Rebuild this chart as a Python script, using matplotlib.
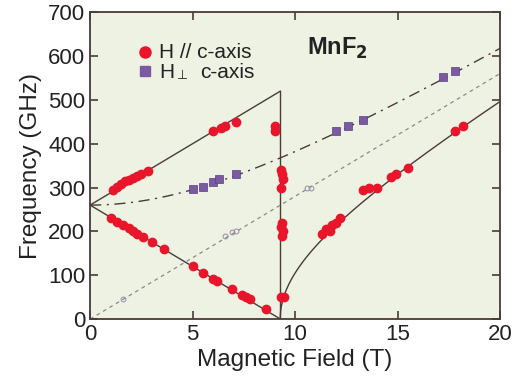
import matplotlib
matplotlib.use("Agg")
import matplotlib.pyplot as plt
import numpy as np

plt.rcParams['font.family'] = ['Liberation Sans', 'DejaVu Sans']

# resonance model parameters
f0 = 260.0       # zero-field gap (GHz)
gamma = 28.0     # GHz/T
h_sf = 9.27      # spin-flop field (T)

# H // c-axis data (field T, freq GHz)
par_H = [1.1, 1.3, 1.5, 1.7, 1.9, 2.1, 2.3, 2.5, 2.8, 6.0, 6.4, 6.6, 7.1, 9.0, 9.0,
         1.0, 1.3, 1.6, 1.9, 2.1, 2.3, 2.6, 3.0, 3.6, 5.0, 5.5, 6.0, 6.2, 6.9, 7.4, 7.6, 7.8, 8.6,
         9.3, 9.35, 9.4, 9.3, 9.35, 9.3, 9.4, 9.35, 9.3, 9.45,
         11.3, 11.5, 11.7, 11.8, 12.0, 12.2, 13.3, 13.6, 14.0, 14.7, 14.9, 15.5, 17.8, 18.2]
par_f = [295, 302, 308, 314, 318, 322, 327, 332, 338, 428, 436, 440, 450, 440, 430,
         230, 222, 215, 207, 200, 195, 188, 176, 160, 120, 105, 92, 88, 68, 55, 50, 46, 22,
         340, 330, 320, 300, 220, 210, 200, 190, 50, 50,
         195, 205, 200, 215, 220, 230, 295, 298, 300, 325, 330, 345, 430, 440]

# H perp c-axis data
perp_H = [5.0, 5.5, 6.0, 6.3, 7.1, 12.0, 12.6, 13.3, 17.2, 17.8]
perp_f = [297, 302, 312, 320, 330, 428, 440, 455, 551, 565]

# weak open markers near the paramagnetic line
open_H = [1.6, 6.6, 6.9, 7.1, 10.6, 10.8]
open_f = [45, 190, 198, 202, 298, 300]

fig = plt.figure(figsize=(5.15, 3.92), dpi=100)
ax = fig.add_axes([0.175, 0.186, 0.796, 0.783])
ax.set_facecolor("#edf2e2")
line_c = "#4a3a3a"

h1 = np.linspace(0, h_sf, 50)
ax.plot(h1, f0 + gamma * h1, color=line_c, lw=1.0)
ax.plot(h1, f0 - gamma * h1, color=line_c, lw=1.0)
ax.plot([h_sf, h_sf], [0, f0 + gamma * h_sf], color=line_c, lw=1.0)
h2 = np.linspace(h_sf, 20, 400)
ax.plot(h2, gamma * np.sqrt(np.clip(h2**2 - h_sf**2, 0, None)), color=line_c, lw=1.0)
h3 = np.linspace(0, 20, 200)
ax.plot(h3, np.sqrt(f0**2 + (gamma * h3)**2), color=line_c, lw=1.0,
        dashes=[8, 4, 1.5, 4])
ax.plot(h3, gamma * h3, color="#8a8a8a", lw=0.9, dashes=[3, 3])

ax.plot(open_H, open_f, ls="none", marker="o", ms=3.5, mfc="none", mec="#9a8aa8", mew=0.7)
ax.plot(par_H, par_f, ls="none", marker="o", ms=6, color="#e8152b", mec="#e8152b")
ax.plot(perp_H, perp_f, ls="none", marker="s", ms=6, color="#7a5aa0", mec="#5a4080", mew=0.5)

# legend drawn as text
ax.plot([2.7], [610], ls="none", marker="o", ms=8, color="#e8152b")
ax.plot([2.7], [565], ls="none", marker="s", ms=6.5, color="#7a5aa0")
ax.text(3.35, 608, "H // c-axis", fontsize=15, va="center", color="#222222")
ax.text(3.35, 563, "H", fontsize=15, va="center", color="#222222")
ax.text(4.25, 556, "\u22a5", fontsize=9, va="center", color="#222222",
        family=['DejaVu Sans'])
ax.text(5.35, 563, "c-axis", fontsize=15, va="center", color="#222222")
ax.text(10.6, 618, "MnF$_\\mathbf{2}$", fontsize=17, fontweight="bold", va="center",
        color="#222222")

ax.set_xlim(0, 20)
ax.set_ylim(0, 700)
ax.set_xticks([0, 5, 10, 15, 20])
ax.set_yticks(range(0, 701, 100))
ax.tick_params(direction="in", top=True, right=True, length=6, width=1.2,
               color=line_c, labelsize=16, labelcolor="#222222")
for s in ax.spines.values():
    s.set_color(line_c)
    s.set_linewidth(1.3)
ax.set_xlabel("Magnetic Field (T)", fontsize=17.5, color="#222222", labelpad=3)
ax.set_ylabel("Frequency (GHz)", fontsize=17.5, color="#222222", labelpad=4)

fig.savefig("out.png", dpi=100)
